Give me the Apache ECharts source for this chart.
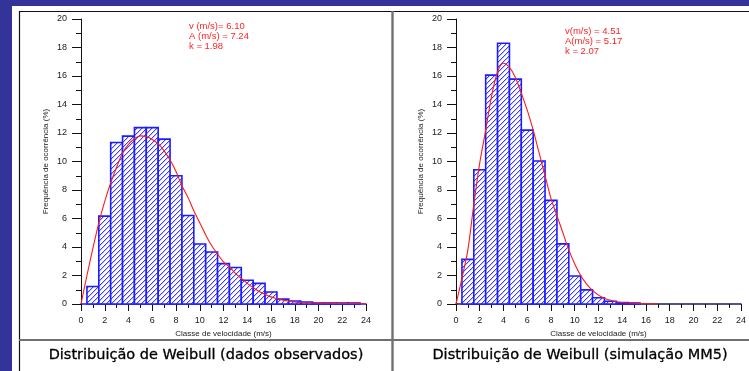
<!DOCTYPE html>
<html>
<head>
<meta charset="utf-8">
<script src="https://cdn.jsdelivr.net/npm/echarts/dist/echarts.min.js"></script>
<style>
  html, body { margin: 0; padding: 0; background: #33339a; }
  #sheet { position: absolute; left: 12px; top: 6px; width: 737px; height: 365px; background: #ffffff; }
  #chart { position: absolute; left: 0; top: 0; width: 749px; height: 371px; }
</style>
</head>
<body>
<div id="sheet"></div>
<div id="chart"></div>
<script>
// Histogram bins (class centres, m/s) and frequencies (%)
const obsBins = [1, 2, 3, 4, 5, 6, 7, 8, 9, 10, 11, 12, 13, 14, 15, 16, 17, 18, 19, 20, 21, 22, 23];
const obsFreq = [1.23, 6.17, 11.33, 11.78, 12.38, 12.38, 11.57, 9.0, 6.21, 4.21, 3.65, 2.83, 2.56, 1.67, 1.45, 0.84, 0.34, 0.21, 0.14, 0.07, 0.07, 0.07, 0.07];

const simBins = [1, 2, 3, 4, 5, 6, 7, 8, 9, 10, 11, 12, 13, 14, 15];
const simFreq = [3.13, 9.42, 16.06, 18.3, 15.78, 12.2, 10.03, 7.27, 4.22, 1.97, 0.99, 0.44, 0.19, 0.1, 0.07];

// Fitted Weibull density curves (%)
const obsCurveX = [0, 0.5, 1, 1.5, 2, 2.5, 3, 3.5, 4, 4.5, 5, 5.5, 6, 6.5, 7, 7.5, 8, 8.5, 9, 9.5, 10, 10.5, 11, 11.5, 12, 12.5, 13, 13.5, 14, 14.5, 15, 15.5, 16, 16.5, 17, 18, 19, 20, 21, 22, 23, 24];
const obsCurveY = [0, 2.0, 3.9, 5.7, 7.2, 8.5, 9.6, 10.6, 11.2, 11.6, 11.8, 11.75, 11.55, 11.25, 10.75, 10.1, 9.3, 8.3, 7.5, 6.55, 5.7, 4.85, 4.1, 3.5, 2.95, 2.6, 2.15, 1.8, 1.45, 1.15, 0.88, 0.68, 0.5, 0.38, 0.27, 0.14, 0.09, 0.06, 0.05, 0.04, 0.04, 0.03];

const simCurveX = [0, 0.5, 1, 1.5, 2, 2.5, 3, 3.5, 4, 4.5, 5, 5.5, 6, 6.5, 7, 7.5, 8, 8.5, 9, 9.5, 10, 10.5, 11, 11.5, 12, 12.5, 13, 13.5, 14, 15, 16, 17];
const simCurveY = [0, 1.8, 3.8, 7.0, 9.9, 12.2, 14.6, 16.3, 16.9, 16.6, 15.9, 14.8, 13.6, 12.2, 10.6, 9.0, 7.4, 6.2, 5.0, 3.8, 2.8, 2.0, 1.4, 0.95, 0.62, 0.4, 0.26, 0.16, 0.1, 0.05, 0.02, 0];

// Axis ranges
const xRange = [0, 24];
const yRange = [0, 20];

// Text
const xName = 'Classe de velocidade (m/s)';
const yName = 'Frequência de ocorrência (%)';
const obsNotes = ['v (m/s)= 6.10', 'A (m/s) = 7.24', 'k = 1.98'];
const simNotes = ['v(m/s) = 4.51', 'A(m/s) = 5.17', 'k = 2.07'];
const captions = ['Distribuição de Weibull (dados observados)', 'Distribuição de Weibull (simulação MM5)'];

// Pixel-exact diagonal hatch tile ("///") for the histogram bars
function hatchTile(rgb, size) {
  const c = document.createElement('canvas');
  c.width = size; c.height = size;
  const g = c.getContext('2d');
  const img = g.createImageData(size, size);
  for (let y = 0; y < size; y++) {
    for (let x = 0; x < size; x++) {
      const i = (y * size + x) * 4;
      const on = (x + y) % size === size - 1;
      const soft = (x + y) % size === 0;
      const col = on ? rgb : soft ? [200, 200, 255] : [255, 255, 255];
      img.data[i] = col[0]; img.data[i + 1] = col[1]; img.data[i + 2] = col[2]; img.data[i + 3] = 255;
    }
  }
  g.putImageData(img, 0, 0);
  return c;
}
const hatch = { image: hatchTile([60, 60, 255], 5), repeat: 'repeat' };

function pairs(xs, ys) { return xs.map((x, i) => [x, ys[i]]); }

function histSeries(idx, bins, freq) {
  return {
    type: 'custom',
    xAxisIndex: idx, yAxisIndex: idx,
    data: pairs(bins, freq),
    renderItem: function (params, api) {
      const c = api.value(0), v = api.value(1);
      const p0 = api.coord([c - 0.5, v]);
      const p1 = api.coord([c + 0.5, 0]);
      return {
        type: 'rect',
        shape: { x: p0[0], y: p0[1], width: p1[0] - p0[0], height: p1[1] - p0[1] },
        style: { fill: hatch, stroke: '#1c1cff', lineWidth: 1.6 }
      };
    },
    z: 2
  };
}

function curveSeries(idx, xs, ys) {
  return {
    type: 'line', xAxisIndex: idx, yAxisIndex: idx,
    data: pairs(xs, ys), smooth: 0.3, showSymbol: false, symbol: 'none',
    lineStyle: { color: '#ff1a1a', width: 1.1 }, z: 3
  };
}

const labelFont = { fontFamily: 'Liberation Sans, Arial, sans-serif', fontSize: 9, color: '#1a1a1a' };

function xAxisCfg(idx, lineColor) {
  return {
    gridIndex: idx, type: 'value', min: xRange[0], max: xRange[1], interval: 2,
    axisLine: { show: true, lineStyle: { color: lineColor, width: 1.5 } },
    axisTick: { show: true, length: 7, lineStyle: { color: '#111' } },
    minorTick: { show: true, splitNumber: 2, length: 4, lineStyle: { color: '#111' } },
    splitLine: { show: false }, minorSplitLine: { show: false },
    axisLabel: Object.assign({ margin: 12 }, labelFont),
    name: xName, nameLocation: 'middle', nameGap: 23,
    nameTextStyle: { fontFamily: 'Liberation Sans, Arial, sans-serif', fontSize: 8, color: '#1a1a1a' }
  };
}
function yAxisCfg(idx) {
  return {
    gridIndex: idx, type: 'value', min: yRange[0], max: yRange[1], interval: 2,
    axisLine: { show: true, lineStyle: { color: '#111', width: 1 } },
    axisTick: { show: true, length: 9, lineStyle: { color: '#111' } },
    minorTick: { show: true, splitNumber: 2, length: 5, lineStyle: { color: '#111' } },
    splitLine: { show: false }, minorSplitLine: { show: false },
    axisLabel: Object.assign({ margin: 14 }, labelFont),
    name: yName, nameLocation: 'middle', nameGap: 31,
    nameTextStyle: { fontFamily: 'Liberation Sans, Arial, sans-serif', fontSize: 8, color: '#1a1a1a' }
  };
}

function noteTexts(x, y0, lines) {
  return lines.map((t, i) => ({
    type: 'text', left: x, top: y0 + i * 10.4,
    style: { text: t, font: '9.5px Liberation Sans, Arial, sans-serif', fill: '#ff2424' }
  }));
}

const captionFont = '14.5px DejaVu Sans, sans-serif';
const frame = [
  { type: 'line', shape: { x1: 19, y1: 11.5, x2: 749, y2: 11.5 }, style: { stroke: '#111', lineWidth: 1.2 } },
  { type: 'line', shape: { x1: 19.5, y1: 11, x2: 19.5, y2: 371 }, style: { stroke: '#111', lineWidth: 1.2 } },
  { type: 'line', shape: { x1: 392.5, y1: 11, x2: 392.5, y2: 371 }, style: { stroke: '#707070', lineWidth: 2.4 } },
  { type: 'line', shape: { x1: 19, y1: 340, x2: 749, y2: 340 }, style: { stroke: '#707070', lineWidth: 2.2 } },
  { type: 'text', x: 206, y: 355, style: { text: captions[0], font: captionFont, fill: '#000', stroke: '#000', lineWidth: 0.3, textAlign: 'center', textVerticalAlign: 'middle' } },
  { type: 'text', x: 580, y: 355, style: { text: captions[1], font: captionFont, fill: '#000', stroke: '#000', lineWidth: 0.3, textAlign: 'center', textVerticalAlign: 'middle' } }
];

const chart = echarts.init(document.getElementById('chart'), null, { renderer: 'canvas' });
chart.setOption({
  animation: false,
  backgroundColor: 'transparent',
  grid: [
    { left: 81, top: 19, width: 285, height: 285 },
    { left: 456, top: 19, width: 285, height: 285 }
  ],
  xAxis: [xAxisCfg(0, '#1c1cff'), xAxisCfg(1, '#1a1a66')],
  yAxis: [yAxisCfg(0), yAxisCfg(1)],
  series: [
    histSeries(0, obsBins, obsFreq),
    curveSeries(0, obsCurveX, obsCurveY),
    histSeries(1, simBins, simFreq),
    curveSeries(1, simCurveX, simCurveY)
  ],
  graphic: frame.concat(noteTexts(189, 21, obsNotes), noteTexts(565, 26, simNotes))
});
</script>
</body>
</html>
